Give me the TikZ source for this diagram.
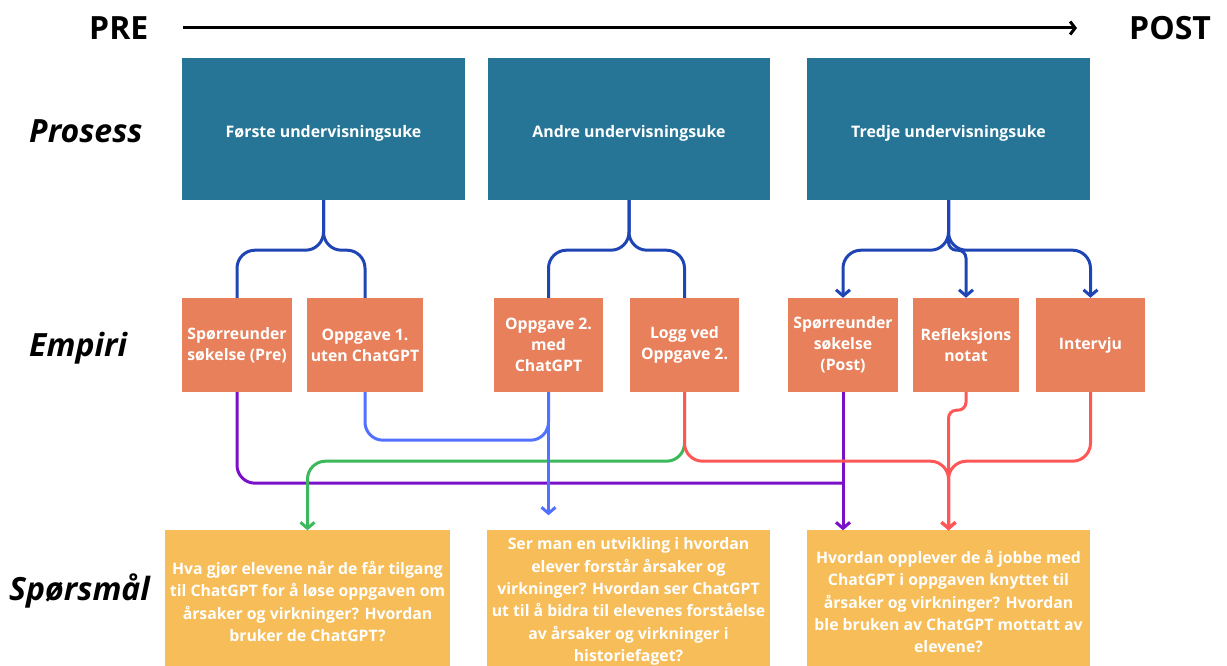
\documentclass[tikz,border=0pt]{standalone}
\usepackage{fontspec}
\setmainfont{Open Sans}
\usetikzlibrary{arrows.meta,calc}
\definecolor{cTeal}{HTML}{267596}
\definecolor{cOrange}{HTML}{E7805B}
\definecolor{cYellow}{HTML}{F6BD58}
\definecolor{cDBlue}{HTML}{1F45B5}
\definecolor{cLBlue}{HTML}{5271FF}
\definecolor{cGreen}{HTML}{3CB95A}
\definecolor{cRed}{HTML}{FF5757}
\definecolor{cPurple}{HTML}{7A10C8}
\tikzset{
  procbox/.style={fill=cTeal, text=white, inner sep=0pt, minimum height=142pt, align=center,
    font=\bfseries\fontsize{15.9}{20}\selectfont},
  proctext/.style={text=white, inner sep=0pt, align=center,
    font=\bfseries\fontsize{15.9}{20}\selectfont},
  empbox/.style={fill=cOrange, text=white, inner sep=0pt, minimum height=94pt, align=center,
    font=\bfseries\fontsize{15.8}{21}\selectfont},
  qbox/.style={fill=cYellow, text=white, inner sep=0pt, minimum height=142pt, align=center,
    font=\bfseries\fontsize{15.8}{22.3}\selectfont},
  rowlabel/.style={anchor=west, inner sep=0pt, font=\bfseries\itshape\fontsize{32}{36}\selectfont},
  endlabel/.style={inner sep=0pt, font=\bfseries\fontsize{32}{36}\selectfont},
  conn/.style={line width=3pt, rounded corners=18pt},
  arr/.style={-{Straight Barb[length=6pt,width=14pt]}},
}
\begin{document}
\begin{tikzpicture}[x=1pt,y=1pt]
\useasboundingbox (0,0) rectangle (1227,666);
\clip (0,0) rectangle (1227,666);
% timeline
\node[endlabel, anchor=west] (pre) at (89,638) {PRE};
\node[endlabel, anchor=west] (post) at (1129,638) {POST};
\draw[line width=3pt, -{Straight Barb[length=5pt,width=13pt]}] ([xshift=34pt]pre.east) -- ([xshift=-52pt]post.west);
% row labels
\node[rowlabel] (lp) at (29,535) {Prosess};
\node[rowlabel] (le) at (29,318) {Empiri};
\node[rowlabel] (ls) at (9,75) {Spørsmål};
% process boxes
\node[procbox, minimum width=283pt] (p1) at (323.5,537) {};
\node[procbox, minimum width=282pt] (p2) at (629,537) {};
\node[procbox, minimum width=283pt] (p3) at (948.5,537) {};
\node[proctext] (t1) at ([yshift=-4pt]p1.center) {Første undervisningsuke};
\node[proctext] (t2) at ([yshift=-4pt]p2.center) {Andre undervisningsuke};
\node[proctext] (t3) at ([yshift=-4pt]p3.center) {Tredje undervisningsuke};
% empirical boxes
\node[empbox, minimum width=110pt] (oA) at (237,321) {Spørreunder\\søkelse (Pre)};
\node[empbox, minimum width=116pt] (oB) at (365,321) {Oppgave 1.\\uten ChatGPT};
\node[empbox, minimum width=109pt] (oC) at (548.5,321) {Oppgave 2.\\med\\ChatGPT};
\node[empbox, minimum width=109pt] (oD) at (684.5,321) {Logg ved\\Oppgave 2.};
\node[empbox, minimum width=110pt] (oE) at (843,321) {Spørreunder\\søkelse\\(Post)};
\node[empbox, minimum width=106pt] (oF) at (966,321) {Refleksjons\\notat};
\node[empbox, minimum width=109pt] (oG) at (1090.5,321) {Intervju};
% question boxes
\node[qbox, minimum width=285pt] (y1) at (307.5,64.5) {Hva gjør elevene når de får tilgang\\til ChatGPT for å løse oppgaven om\\årsaker og virkninger? Hvordan\\bruker de ChatGPT?};
\node[qbox, minimum width=283pt] (y2) at (628.5,64.5) {Ser man en utvikling i hvordan\\elever forstår årsaker og\\virkninger? Hvordan ser ChatGPT\\ut til å bidra til elevenes forståelse\\av årsaker og virkninger i\\historiefaget?};
\node[qbox, minimum width=283pt] (y3) at (948.5,64.5) {Hvordan opplever de å jobbe med\\ChatGPT i oppgaven knyttet til\\årsaker og virkninger? Hvordan\\ble bruken av ChatGPT mottatt av\\elevene?};
% top forks
\draw[conn, cDBlue] (p1.south) -- ++(0,-50) -| (oA.north);
\draw[conn, cDBlue] (p1.south) -- ++(0,-50) -| (oB.north);
\draw[conn, cDBlue] (p2.south) -- ++(0,-50) -| (oC.north);
\draw[conn, cDBlue] (p2.south) -- ++(0,-50) -| (oD.north);
\draw[conn, cDBlue, arr] (p3.south) -- ++(0,-50) -| (oE.north);
\draw[conn, cDBlue, arr, rounded corners=8pt] (p3.south) -- ++(0,-50) -| (oF.north);
\draw[conn, cDBlue, arr] (p3.south) -- ++(0,-50) -| (oG.north);
% lower connectors
\draw[conn, cPurple] (oA.south) |- ($(oE.south)+(0,-91)$);
\draw[conn, cPurple, arr] (oE.south) -- (oE.south |- y3.north);
\draw[conn, cGreen, arr] (oD.south) -- ++(0,-69) -| (y1.north);
\draw[conn, cLBlue] (oB.south) |- ($(oC.south)+(0,-48)$) -- (oC.south);
\draw[conn, cLBlue, arr] (oC.south) -- ($(oC.south |- y2.north)+(0,15)$);
\draw[conn, cRed, arr] (oD.south) -- ++(0,-69) -| (y3.north);
\draw[conn, cRed, arr] (oG.south) -- ++(0,-69) -| (y3.north);
\draw[conn, cRed, arr, rounded corners=8pt] (oF.south) -- ++(0,-18) -| (y3.north);
\end{tikzpicture}
\end{document}
